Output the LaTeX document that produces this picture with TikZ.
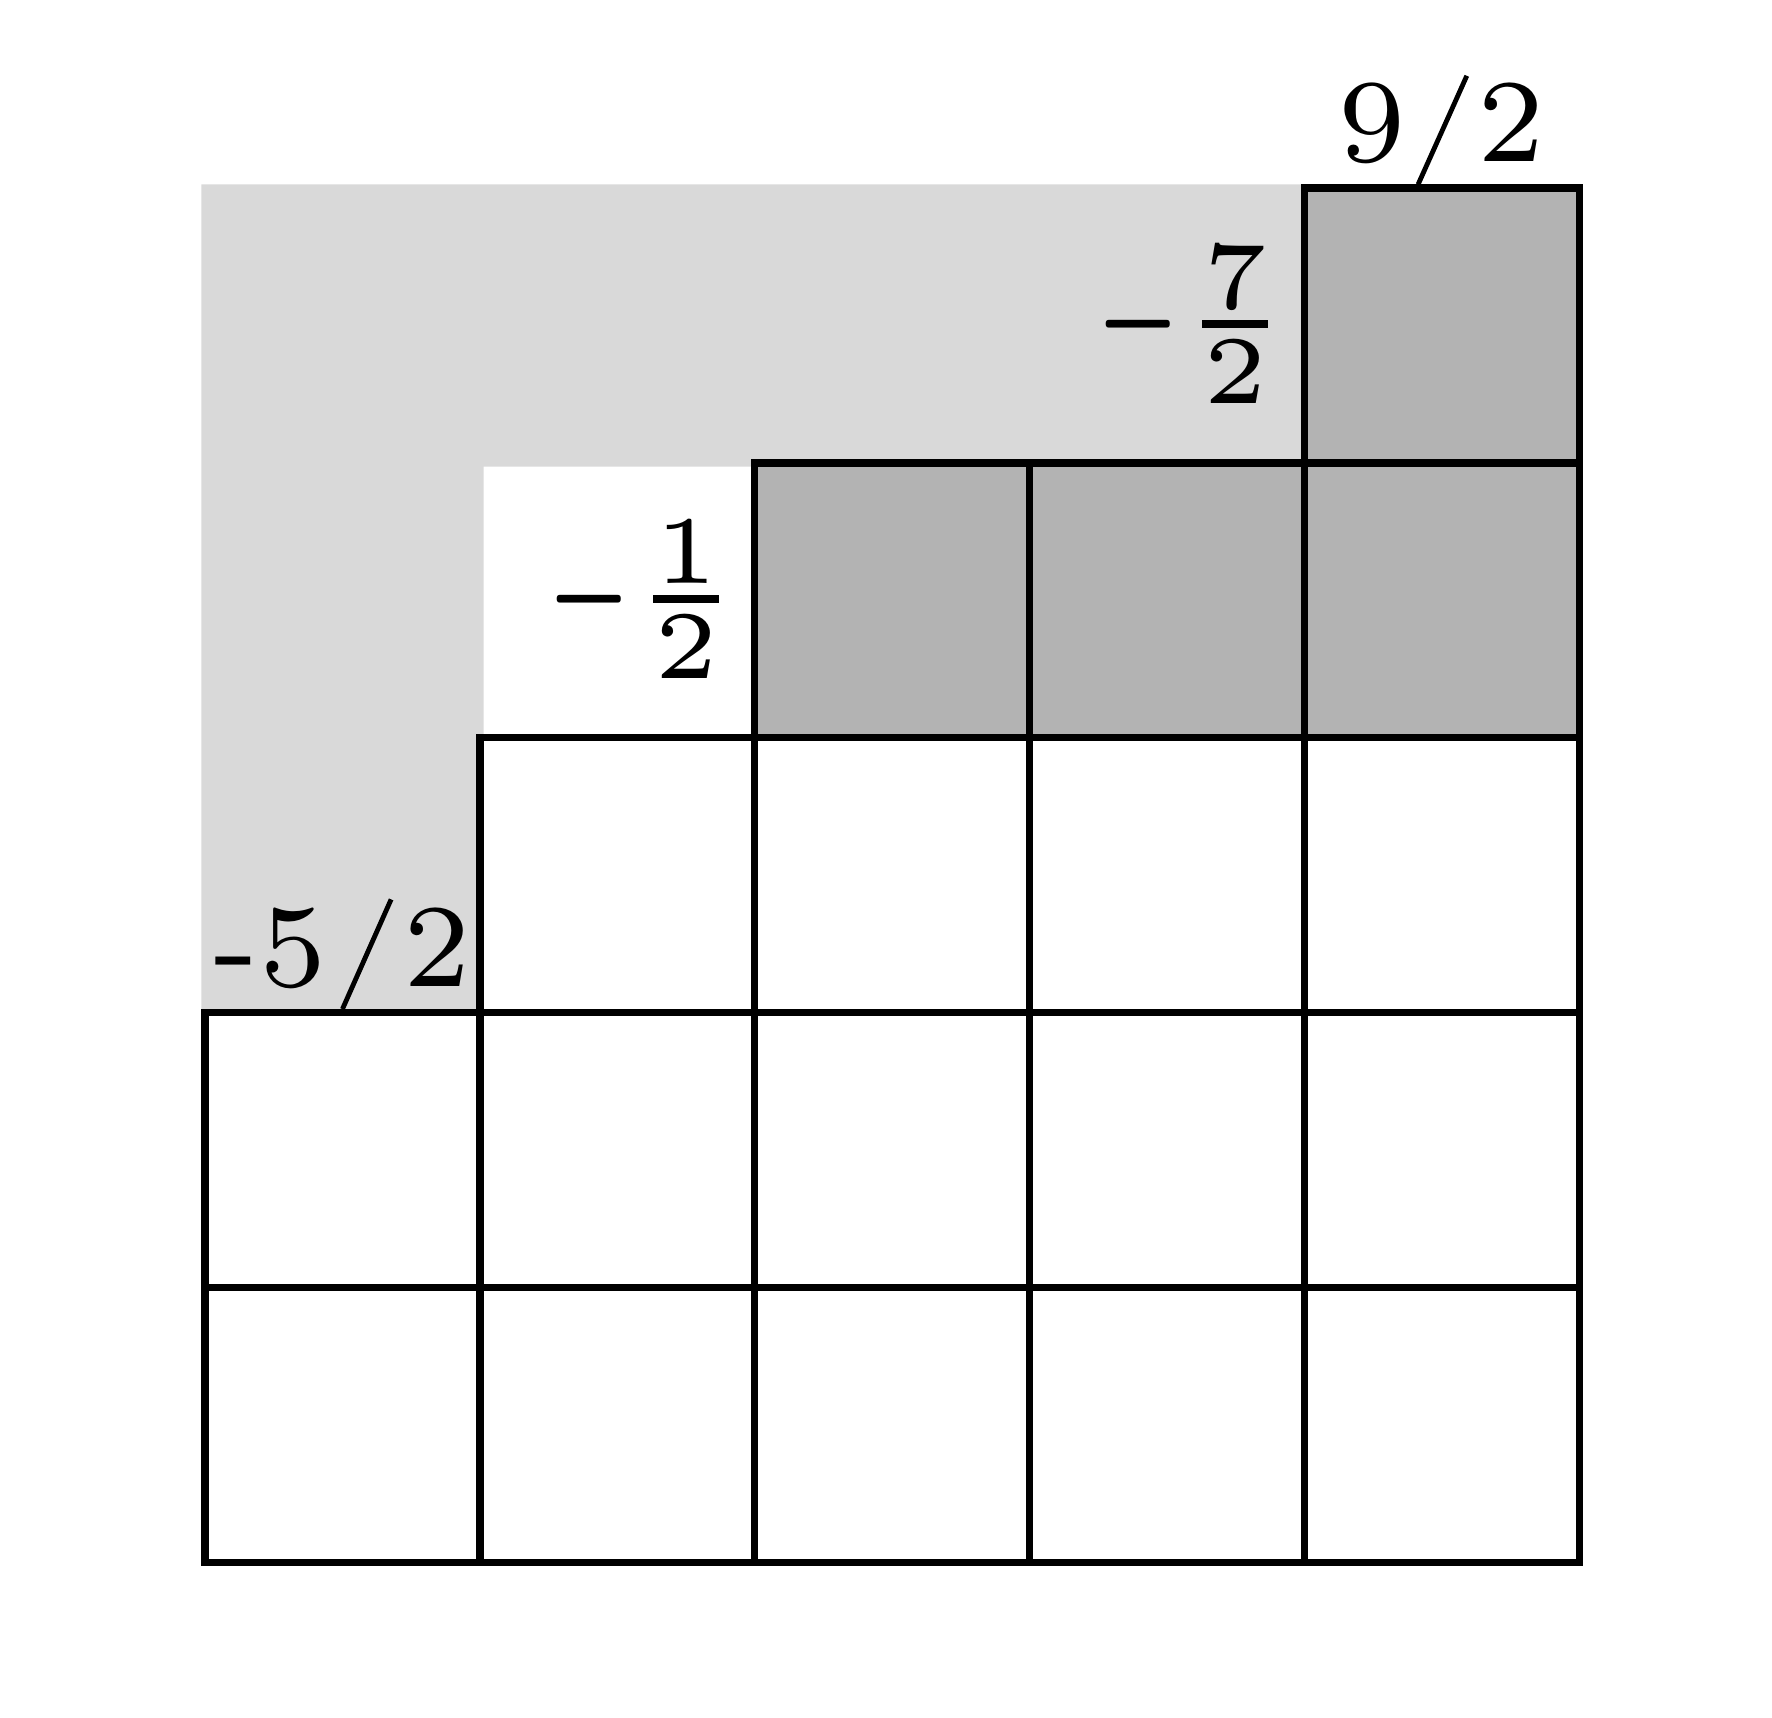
\documentclass[tikz,border=0pt]{standalone}
\usepackage{graphicx}
\definecolor{lightg}{HTML}{D9D9D9}
\definecolor{darkg}{HTML}{B3B3B3}
\newcommand{\myminus}{\raisebox{-2.5pt}{\scalebox{1.085}[2]{\normalsize$-$}}}
\newcommand{\myfrac}[2]{\scalebox{2}{\tiny$\frac{\raisebox{0.1pt}[\height][\depth]{#1}}{\raisebox{-0.18pt}[\height][\depth]{#2}}$}}
\begin{document}
\begin{tikzpicture}[x=1cm,y=1cm,
  cell/.style={draw=black,line width=0.76pt,line join=miter},
  slash/.style={draw=black,line width=0.5pt},
  lab/.style={inner sep=0pt,outer sep=0pt}]
\useasboundingbox (-0.7457,-0.5657) rectangle (5.7003,5.6838);
\def\h{0.0133}
% light gray L-shaped band
\fill[lightg] (-\h,2) -- (-\h,5+\h) -- (4,5+\h) -- (4,4-\h) -- (1+\h,4-\h) -- (1+\h,2) -- cycle;
% dark cells
\fill[darkg] (2,3) rectangle (5,4);
\fill[darkg] (4,4) rectangle (5,5);
% grid lines
\foreach \x in {0,...,4} \foreach \y in {0,1} \draw[cell] (\x,\y) rectangle ++(1,1);
\foreach \x in {1,...,4} \draw[cell] (\x,2) rectangle ++(1,1);
\foreach \x in {2,3,4} \draw[cell] (\x,3) rectangle ++(1,1);
\draw[cell] (4,4) rectangle ++(1,1);
% fractions
\node[lab,anchor=base east] (f7) at (3.951,4.417) {\myminus\myfrac{7}{2}};
\node[lab,anchor=base east] (f1) at (1.954,3.417) {\myminus\myfrac{1}{2}};
% 9/2 label
\node[lab,anchor=base] (n9) at (4.245,5.095) {\scalebox{1.75}{\scriptsize 9}};
\node[lab,anchor=base] (n9d) at (4.753,5.095) {\scalebox{1.75}{\scriptsize 2}};
\coordinate (s1a) at (4.413,5.013);
\coordinate (s1b) at (4.590,5.408);
\draw[slash] (s1a) -- (s1b);
% -5/2 label
\node[lab,anchor=base] (n5) at (0.237,2.094) {\scalebox{1.75}{\scriptsize -5}};
\node[lab,anchor=base] (n5d) at (0.845,2.094) {\scalebox{1.75}{\scriptsize 2}};
\coordinate (s2a) at (0.500,2.013);
\coordinate (s2b) at (0.677,2.412);
\draw[slash] (s2a) -- (s2b);
\end{tikzpicture}
\end{document}
